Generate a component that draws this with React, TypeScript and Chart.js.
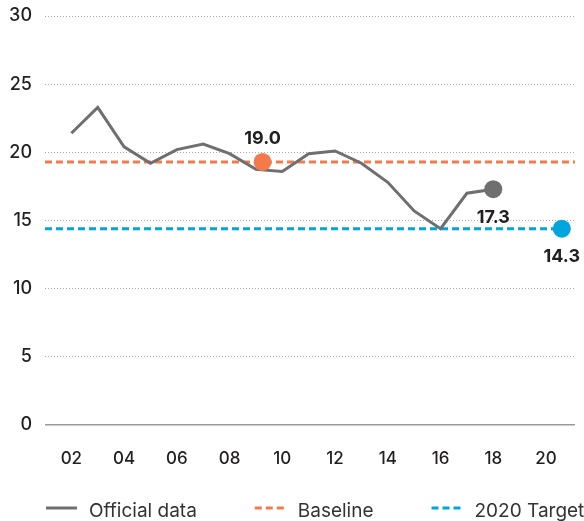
import React, { useEffect, useRef } from "react";
import { Chart, registerables } from "chart.js";

Chart.register(...registerables);

const years = [2002, 2003, 2004, 2005, 2006, 2007, 2008, 2009, 2010, 2011, 2012, 2013, 2014, 2015, 2016, 2017, 2018];
const officialValues = [21.4, 23.3, 20.4, 19.2, 20.2, 20.6, 19.9, 18.75, 18.6, 19.9, 20.1, 19.2, 17.8, 15.7, 14.4, 17.0, 17.3];
const xTickYears = [2002, 2004, 2006, 2008, 2010, 2012, 2014, 2016, 2018, 2020];
const yTicks = [0, 5, 10, 15, 20, 25, 30];
const xRange = [2001, 2021.1];

const baselineValue = 19.3;
const baselineDotYear = 2009.25;
const baselineLabel = "19.0";
const targetValue = 14.4;
const targetDotYear = 2020.6;
const targetLabel = "14.3";
const latestLabel = "17.3";

const legendNames = ["Official data", "Baseline", "2020 Target"];

const GRAY = "#6f6f72";
const ORANGE = "#f47a4c";
const BLUE = "#00a5dc";
const TEXT = "#231f20";
const FONT = "Inter, 'DejaVu Sans', sans-serif";

export default function App() {
  const ref = useRef<HTMLCanvasElement | null>(null);

  useEffect(() => {
    if (!ref.current) return;
    const lastIdx = officialValues.length - 1;

    const labelPlugin = {
      id: "valueLabels",
      afterDatasetsDraw(chart: any) {
        const { ctx, scales } = chart;
        const xs = scales.x;
        const ys = scales.y;
        const items = [
          { x: baselineDotYear, y: baselineValue, text: baselineLabel, dy: -18 },
          { x: years[lastIdx], y: officialValues[lastIdx], text: latestLabel, dy: 34 },
          { x: targetDotYear, y: targetValue, text: targetLabel, dy: 33 },
        ];
        ctx.save();
        ctx.font = `700 18px ${FONT}`;
        ctx.fillStyle = TEXT;
        ctx.textAlign = "center";
        ctx.textBaseline = "alphabetic";
        for (const it of items) {
          ctx.fillText(it.text, xs.getPixelForValue(it.x), ys.getPixelForValue(it.y) + it.dy);
        }
        ctx.restore();
      },
    };

    const legendPlugin = {
      id: "customLegend",
      afterDraw(chart: any) {
        const { ctx } = chart;
        const colors = [GRAY, ORANGE, BLUE];
        const dashes = [[], [7, 4], [7, 4]];
        const y = 508;
        let x = 46;
        ctx.save();
        ctx.font = `400 19px ${FONT}`;
        ctx.textBaseline = "alphabetic";
        ctx.textAlign = "left";
        legendNames.forEach((name, i) => {
          ctx.beginPath();
          ctx.setLineDash(dashes[i]);
          ctx.strokeStyle = colors[i];
          ctx.lineWidth = 3;
          ctx.moveTo(x, y);
          ctx.lineTo(x + 31, y);
          ctx.stroke();
          ctx.setLineDash([]);
          x += 31 + 12;
          ctx.fillStyle = "#333333";
          ctx.fillText(name, x, 517);
          x += ctx.measureText(name).width + 58;
        });
        ctx.restore();
      },
    };

    const chart = new Chart(ref.current, {
      type: "line",
      data: {
        datasets: [
          {
            label: "Baseline dot",
            data: [{ x: baselineDotYear, y: baselineValue }],
            showLine: false,
            pointRadius: 9,
            pointBorderWidth: 0,
            pointBackgroundColor: ORANGE,
            borderColor: ORANGE,
            order: 0,
          },
          {
            label: "Target dot",
            data: [{ x: targetDotYear, y: targetValue }],
            showLine: false,
            pointRadius: 9,
            pointBorderWidth: 0,
            pointBackgroundColor: BLUE,
            borderColor: BLUE,
            order: 0,
          },
          {
            label: legendNames[0],
            data: years.map((yr, i) => ({ x: yr, y: officialValues[i] })),
            borderColor: GRAY,
            borderWidth: 3,
            tension: 0,
            pointRadius: (c: any) => (c.dataIndex === lastIdx ? 9 : 0),
            pointBorderWidth: 0,
            pointBackgroundColor: GRAY,
            order: 1,
          },
          {
            label: legendNames[1],
            data: [
              { x: xRange[0], y: baselineValue },
              { x: xRange[1], y: baselineValue },
            ],
            borderColor: ORANGE,
            borderWidth: 3,
            borderDash: [7, 4],
            pointRadius: 0,
            order: 2,
          },
          {
            label: legendNames[2],
            data: [
              { x: xRange[0], y: targetValue },
              { x: targetDotYear, y: targetValue },
            ],
            borderColor: BLUE,
            borderWidth: 3,
            borderDash: [7, 4],
            pointRadius: 0,
            order: 2,
          },
        ],
      },
      options: {
        responsive: false,
        animation: false,
        layout: { padding: { left: 0, right: 8, top: 16, bottom: 0 } },
        plugins: {
          legend: { display: false },
          tooltip: { enabled: false },
        },
        scales: {
          x: {
            type: "linear",
            min: xRange[0],
            max: xRange[1],
            grid: { display: false, drawTicks: false },
            border: { display: false },
            afterBuildTicks: (s: any) => {
              s.ticks = xTickYears.map((v) => ({ value: v }));
            },
            afterFit: (s: any) => {
              s.height = 96;
              s.paddingLeft = 0;
              s.paddingRight = 0;
            },
            ticks: {
              padding: 24,
              color: TEXT,
              font: { family: FONT, size: 17, weight: "500" },
              callback: (v: any) => String(v).slice(2),
              maxRotation: 0,
              autoSkip: false,
            },
          },
          y: {
            min: 0,
            max: 30,
            afterBuildTicks: (s: any) => {
              s.ticks = yTicks.map((v) => ({ value: v }));
            },
            afterFit: (s: any) => {
              s.width = 45;
              s.paddingTop = 0;
              s.paddingBottom = 0;
            },
            grid: {
              drawTicks: false,
              color: (c: any) => (c.tick && c.tick.value === 0 ? "#9a9a9a" : "#a8a8a8"),
              lineWidth: (c: any) => (c.tick && c.tick.value === 0 ? 1.5 : 1),
            },
            border: {
              display: false,
              dash: (c: any) => (c.tick && c.tick.value === 0 ? [] : [1, 2]),
            },
            ticks: {
              padding: 13,
              color: TEXT,
              font: { family: FONT, size: 18, weight: "500" },
            },
          },
        },
      },
      plugins: [labelPlugin, legendPlugin],
    } as any);

    return () => chart.destroy();
  }, []);

  return (
    <div style={{ position: "absolute", left: 0, top: 0, width: 584, height: 521, background: "#ffffff" }}>
      <canvas ref={ref} width={584} height={521} style={{ display: "block" }} />
    </div>
  );
}
